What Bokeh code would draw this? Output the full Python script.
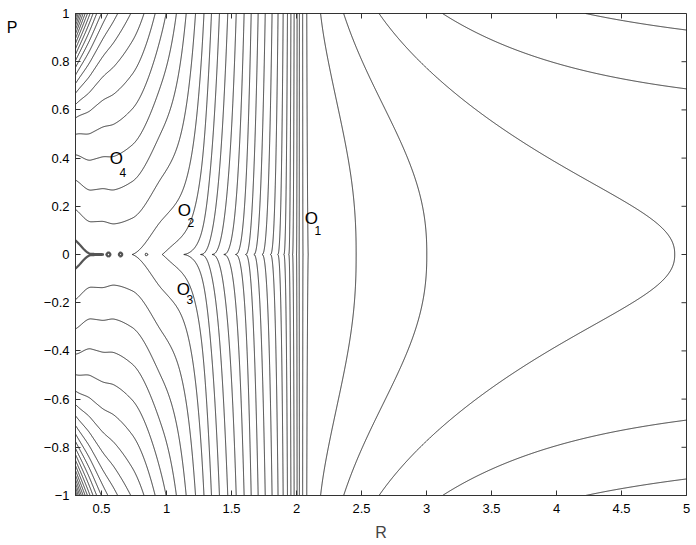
import numpy as np
from bokeh.plotting import figure
from bokeh.models import Range1d, LinearAxis, FixedTicker, ColumnDataSource
from bokeh.embed import file_html
from bokeh.resources import INLINE
from bokeh.core.properties import value

# ---- values ----
# R positions where the contours cross P = 0, with their level index
r_at_p0 = [0.30, 0.42, 0.50, 0.60, 0.736, 0.967, 1.133, 1.262, 1.351, 1.441, 1.531, 1.608,
           1.672, 1.736, 1.80, 1.856, 1.903, 1.941, 1.97, 2.00, 2.02, 2.05, 2.09]
level_at_p0 = [-0.45, -0.02, -0.01, 0.10, 0.0, -1, -2, -3, -4, -5, -6, -7,
               -8, -9, -10, -11, -12, -13, -14, -15, -16, -17, -18]
# crossings of P = 0 to the right of the vertical contour
r_at_p0_right = [2.46, 3.00, 4.92]
level_at_p0_right = [-19, -20, -21]
# tiny closed level-0 contours sitting on P = 0
island_r = [0.556, 0.646]
dash_r = [0.851]
levels = list(range(-24, 26))

# shape parameters of the field (fitted by eye)
r_sep = 2.035            # vertical contour (P has no effect there)
decay_right = 0.85       # flattening of the levels for R > r_sep
w_big, w_mid, w_edge = 7.3, 1.1, 0.28   # P-weight left of r_sep
w_base, w_cut = 0.8, 0.15
wr_amp, wr_len, wr_slope = 1.6, 0.25, 0.25  # P-weight right of r_sep
corner_amp, corner_len, corner_pow = 14.0, 0.12, 4.5

x_ticks = [0.5, 1, 1.5, 2, 2.5, 3, 3.5, 4, 4.5, 5]
y_ticks = [-1, -0.8, -0.6, -0.4, -0.2, 0, 0.2, 0.4, 0.6, 0.8, 1]
x_label, y_label, y_label_at = "R", "P", 0.94

point_names = ["O", "O", "O", "O"]
point_subs = ["1", "2", "3", "4"]
point_r = [2.115, 1.138, 1.13, 0.615]
point_p = [0.149, 0.183, -0.145, 0.398]
sub_dy = [12, 12, 10, 14]


def pchip(xk, yk, x):
    xk = np.asarray(xk, float); yk = np.asarray(yk, float)
    h = np.diff(xk); d = np.diff(yk) / h
    m = np.zeros_like(yk)
    m[0], m[-1] = d[0], d[-1]
    for k in range(1, len(xk) - 1):
        if d[k - 1] * d[k] <= 0:
            m[k] = 0.0
        else:
            w1 = 2 * h[k] + h[k - 1]; w2 = h[k] + 2 * h[k - 1]
            m[k] = (w1 + w2) / (w1 / d[k - 1] + w2 / d[k])
    xc = np.clip(x, xk[0], xk[-1])
    i = np.clip(np.searchsorted(xk, xc) - 1, 0, len(xk) - 2)
    t = (xc - xk[i]) / h[i]
    h00 = 2 * t**3 - 3 * t**2 + 1; h10 = t**3 - 2 * t**2 + t
    h01 = -2 * t**3 + 3 * t**2; h11 = t**3 - t**2
    return h00 * yk[i] + h10 * h[i] * m[i] + h01 * yk[i + 1] + h11 * h[i] * m[i + 1]


def sig(z):
    return 0.5 * (1 + np.tanh(z))


R = np.linspace(0.3, 5.0, 1411)
P = np.linspace(-1.0, 1.0, 1001)
RR, PP = np.meshgrid(R, P)

# level along P = 0: monotone spline on the left, exponential approach on the right
rr_r = np.array(r_at_p0_right); lv_r = np.array(level_at_p0_right, float)
amp_r = (lv_r[0] - lv_r[-1]) / (np.exp(-(rr_r[0] - r_sep) / decay_right) - np.exp(-(rr_r[-1] - r_sep) / decay_right))
c_r = np.mean(lv_r - amp_r * np.exp(-(rr_r - r_sep) / decay_right))
u_exp = c_r + amp_r * np.exp(-(RR - r_sep) / decay_right)
r_join = r_at_p0[-1]
jump = level_at_p0[-1] - (c_r + amp_r * np.exp(-(r_join - r_sep) / decay_right))
u = np.where(RR <= r_join, pchip(r_at_p0, level_at_p0, RR),
             u_exp + jump * np.exp(-(RR - r_join) / 0.08))
# small features that live only right on the P = 0 line
for ri in island_r:      # dips just below level 0
    depth = float(pchip(r_at_p0, level_at_p0, np.array([ri]))[0]) + 0.1
    u = u - depth * np.exp(-((RR - ri) / 0.015) ** 2) * np.exp(-(PP / 0.015) ** 2)
for ri in dash_r:        # a short flat bump just above level 0
    rise = 0.03 - float(pchip(r_at_p0, level_at_p0, np.array([ri]))[0])
    u = u + rise * np.exp(-((RR - ri) / 0.02) ** 4) * np.exp(-(PP / 0.01) ** 2)

# weight of |P|
xl = np.clip(r_sep - RR, 0, None)
w_l = (w_big / (1 + np.exp((RR - w_mid) / w_edge)) + w_base) * np.tanh(xl / w_cut)
xr = np.clip(RR - r_sep, 0, None)
w_r = -(wr_amp * (1 - np.exp(-xr / wr_len)) + wr_slope * xr)
w = np.where(RR < r_sep, w_l, w_r)
mexp = 0.45 + 0.55 * sig(-(RR - 1.05) / 0.15) + 1.85 * sig((RR - 2.15) / 0.06)

H = u + w * np.abs(PP) ** mexp + corner_amp * np.exp(-(RR - 0.3) / corner_len) * np.abs(PP) ** corner_pow

FONT = "Liberation Sans"
AX = "#333333"
W, Hh = 696, 545
BL, BR, BT, BB = 75, 10, 13, 50
p = figure(width=W, height=Hh, x_range=Range1d(0.3, 5), y_range=Range1d(-1, 1),
           output_backend="svg", toolbar_location=None,
           min_border_left=BL, min_border_right=BR, min_border_top=BT, min_border_bottom=BB)
p.grid.visible = False
p.outline_line_color = AX
p.background_fill_color = "white"

p.contour(x=R, y=P, z=H, levels=levels, line_color="black", line_width=0.8, fill_color=None)
# the crowded level-0 pieces near the left edge appear as a heavier grey stroke
sel = R < 0.7
p.contour(x=R[sel], y=P, z=H[:, sel], levels=[0], line_color="#555555", line_width=2.2, fill_color=None)

minus = "\u2212"
def fmt(v):
    return ("%g" % v).replace("-", minus)

for ax in (p.xaxis[0], p.yaxis[0]):
    ax.major_tick_in = 5
    ax.major_tick_out = 0
    ax.minor_tick_line_color = None
    ax.axis_line_color = AX
    ax.major_tick_line_color = AX
    ax.major_label_text_font = FONT
    ax.major_label_text_font_size = "13px"
    ax.major_label_text_color = "black"
p.xaxis.ticker = FixedTicker(ticks=x_ticks)
p.yaxis.ticker = FixedTicker(ticks=y_ticks)
p.xaxis.major_label_overrides = {v: fmt(v) for v in x_ticks}
p.yaxis.major_label_overrides = {v: fmt(v) for v in y_ticks}
p.xaxis.major_label_standoff = 8
p.yaxis.major_label_standoff = 6
p.xaxis.axis_label = x_label
p.xaxis.axis_label_text_font = FONT
p.xaxis.axis_label_text_font_size = "16px"
p.xaxis.axis_label_text_font_style = "normal"
p.xaxis.axis_label_standoff = 8

# "P" written upright near the top of the vertical axis
p_axis = LinearAxis(ticker=FixedTicker(ticks=[y_label_at]),
                    major_label_overrides={y_label_at: y_label},
                    axis_line_color=None, major_tick_line_color=None, minor_tick_line_color=None,
                    major_label_text_font=FONT, major_label_text_font_size="16px",
                    major_label_text_color="black", major_label_standoff=17)
p.add_layout(p_axis, "left")

# inward ticks on the top and right edges of the box
tx = np.array(x_ticks, float)
ty = np.array(y_ticks, float)
frame_w = W - BL - BR
frame_h = Hh - BT - BB
dx = 5 * 4.7 / frame_w
dy = 5 * 2.0 / frame_h
p.segment(x0=tx, y0=np.full_like(tx, 1.0), x1=tx, y1=np.full_like(tx, 1.0 - dy),
          line_color=AX, line_width=1)
p.segment(x0=np.full_like(ty, 5.0), y0=ty, x1=np.full_like(ty, 5.0 - dx), y1=ty,
          line_color=AX, line_width=1)

src = ColumnDataSource(dict(r=point_r, p=point_p, name=point_names, sub=point_subs, dy=sub_dy))
p.text(x="r", y="p", text="name", source=src, text_font=value(FONT), text_font_size="17px",
       text_align="center", text_baseline="middle")
p.text(x="r", y="p", text="sub", source=src, text_font=value(FONT), text_font_size="12px",
       text_align="left", text_baseline="middle", x_offset=3, y_offset="dy")

open("out.html", "w").write(file_html(p, INLINE))
